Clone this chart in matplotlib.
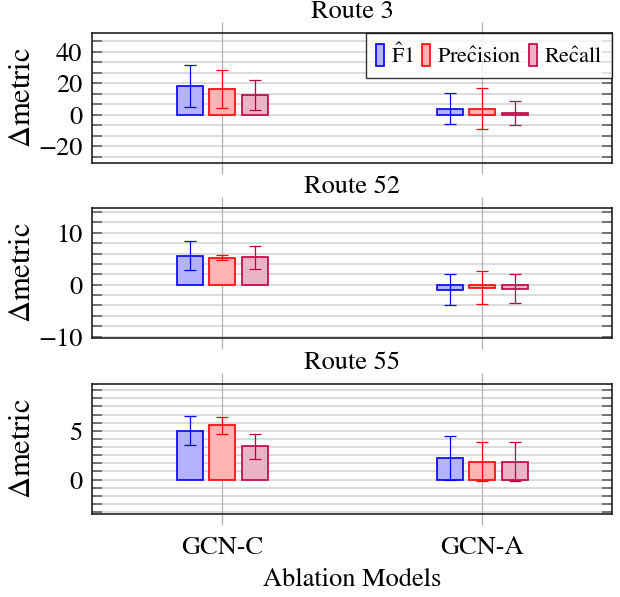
import numpy as np
import matplotlib.pyplot as plt
from matplotlib.ticker import FixedLocator

plt.rcParams['font.family'] = ['STIXGeneral', 'Liberation Serif', 'DejaVu Serif']
plt.rcParams['mathtext.fontset'] = 'stix'

# data
models = ["GCN-C", "GCN-A"]
metrics = [r"$\hat{\mathrm{F}}\mathrm{1}$", r"$\mathrm{Pre}\hat{\mathrm{c}}\mathrm{ision}$",
           r"$\mathrm{Re}\hat{\mathrm{c}}\mathrm{all}$"]
routes = ["Route 3", "Route 52", "Route 55"]

# rows: F1, Precision, Recall ; cols: GCN-C, GCN-A
r3_mean = [[18.3, 3.7], [16.2, 3.6], [12.4, 1.0]]
r3_err = [[13.3, 9.8], [12.3, 13.0], [9.7, 7.4]]
r52_mean = [[5.6, -1.0], [5.2, -0.6], [5.3, -0.75]]
r52_err = [[2.85, 3.0], [0.45, 3.15], [2.2, 2.85]]
r55_mean = [[5.03, 2.19], [5.55, 1.85], [3.4, 1.85]]
r55_err = [[1.45, 2.24], [0.9, 2.03], [1.3, 2.03]]

means = [r3_mean, r52_mean, r55_mean]
errs = [r3_err, r52_err, r55_err]
ylims = [(-30.5, 51.6), (-10.2, 14.7), (-3.5, 9.8)]
majors = [[-20, 0, 20, 40], [-10, 0, 10], [0, 5]]
minor_step = [20 / 3, 2, 5 / 6]

edge = ['#0000ff', '#ff0000', '#bf0040']
fill = ['#b3b3ff', '#ffb3b3', '#ecb3c6']
offs = [-0.125, 0.0, 0.125]
bw = 0.1

fig = plt.figure(figsize=(6.2, 5.97), dpi=100)
W, H = 620, 597
tops = [33.3, 208.3, 384.0]
bots = [162.7, 337.7, 513.7]
x = np.arange(len(models))

for k in range(3):
    ax = fig.add_axes([92 / W, 1 - bots[k] / H, 520 / W, (bots[k] - tops[k]) / H])
    ax.set_xlim(-0.5, 1.5)
    ax.set_ylim(*ylims[k])
    # grid
    lo, hi = ylims[k]
    st = minor_step[k]
    ys = np.arange(np.ceil(lo / st) * st, hi, st)
    for yv in ys:
        ax.axhline(yv, color='#d9d9d9', lw=1.3, zorder=0)
    ax.yaxis.set_major_locator(FixedLocator(majors[k]))
    ax.yaxis.set_minor_locator(FixedLocator(ys))
    for xv in x:
        ax.axvline(xv, color='#b0b0b0', lw=0.9, zorder=0)
    handles = []
    for j in range(3):
        b = ax.bar(x + offs[j], means[k][j], bw, color=fill[j], edgecolor=edge[j],
                   lw=1.2, zorder=2, label=metrics[j])
        ax.errorbar(x + offs[j], means[k][j], yerr=errs[k][j], fmt='none',
                    ecolor=edge[j], elinewidth=0.9, capsize=4, capthick=0.9, zorder=3)
        handles.append(b)
    ax.set_xticks(x)
    ax.tick_params(axis='x', direction='out', length=8, width=0.9, color='#b0b0b0',
                   top=True, bottom=True, labelbottom=(k == 2), labelsize=19, pad=8)
    ax.tick_params(axis='y', which='both', direction='in', length=7, width=1.1,
                   color='#555555', left=True, right=True, labelsize=19, pad=7)
    if k == 2:
        ax.set_xticklabels(models)
        ax.set_xlabel("Ablation Models", fontsize=19, labelpad=6)
    ax.set_ylabel(r"$\Delta$metric", fontsize=22)
    ax.yaxis.set_label_coords(-0.105, 0.5)
    for s in ax.spines.values():
        s.set_linewidth(1.2)
        s.set_color('#222222')
    ax.text(0.5, 1.0 + 21 / (bots[k] - tops[k]), routes[k], transform=ax.transAxes,
            ha='center', va='center', fontsize=19)
    if k == 0:
        leg = ax.legend(handles=handles, loc='upper right', ncol=3, fontsize=16,
                        frameon=True, fancybox=False, edgecolor='black',
                        borderaxespad=0.0, handlelength=0.37, handleheight=1.1,
                        handletextpad=0.3, columnspacing=0.35, borderpad=0.45)
        leg.get_frame().set_linewidth(1.0)
        leg.set_zorder(5)

fig.savefig("out.png", dpi=100)
